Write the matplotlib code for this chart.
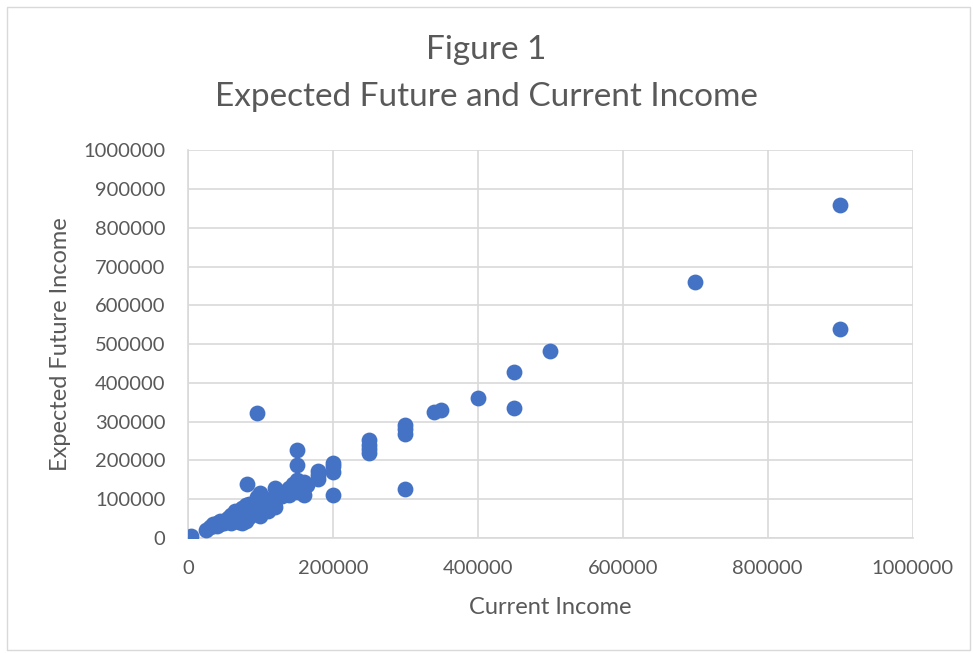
import numpy as np
import matplotlib.pyplot as plt
from matplotlib.patches import Rectangle
from matplotlib.ticker import FuncFormatter

# current income / expected future income
current = [5000, 25000, 30000, 35000, 40000, 40000, 45000, 45000, 50000, 50000,
           55000, 60000, 60000, 65000, 70000, 70000, 75000, 75000, 80000, 80000,
           80000, 85000, 85000, 90000, 90000, 95000, 100000, 100000, 100000, 100000,
           110000, 110000, 115000, 120000, 120000, 120000, 125000, 130000, 135000, 140000,
           145000, 150000, 150000, 150000, 155000, 160000, 160000, 160000, 165000, 120000,
           96000, 150000, 150000, 81000, 180000, 180000, 180000, 200000, 200000, 200000,
           200000, 250000, 250000, 250000, 250000, 300000, 300000, 300000, 300000, 340000,
           350000, 400000, 450000, 450000, 500000, 700000, 900000, 900000, 60000, 90000,
           105000, 130000, 70000, 55000, 35000, 65000, 85000, 110000, 140000, 95000]
future = [5000, 22000, 28000, 35000, 40000, 30000, 45000, 35000, 45000, 38000,
          50000, 60000, 45000, 55000, 65000, 50000, 78000, 38000, 85000, 60000,
          45000, 70000, 55000, 80000, 65000, 90000, 116000, 100000, 80000, 58000,
          95000, 85000, 100000, 128000, 110000, 80000, 105000, 115000, 122000, 130000,
          140000, 150000, 135000, 120000, 142000, 145000, 130000, 112000, 138000, 95000,
          322000, 226000, 188000, 139000, 172000, 162000, 152000, 193000, 185000, 170000,
          111000, 252000, 240000, 230000, 220000, 292000, 282000, 268000, 127000, 326000,
          330000, 360000, 428000, 336000, 483000, 660000, 858000, 540000, 40000, 75000,
          90000, 108000, 42000, 52000, 30000, 70000, 88000, 70000, 110000, 105000]

plt.rcParams['font.family'] = ['Lato', 'DejaVu Sans']
grey = '#595959'

fig = plt.figure(figsize=(9.73, 6.53), dpi=100)
ax = fig.add_axes([0.193, 0.176, 0.745, 0.594])
ax.scatter(current, future, s=130, color='#4472C4', zorder=3, linewidths=0)

ax.set_xlim(0, 1000000)
ax.set_ylim(0, 1000000)
ax.set_xticks(np.arange(0, 1000001, 200000))
ax.set_yticks(np.arange(0, 1000001, 100000))
plain = FuncFormatter(lambda v, p: "%d" % v)
ax.xaxis.set_major_formatter(plain)
ax.yaxis.set_major_formatter(plain)
ax.grid(color='#d9d9d9', linewidth=1.2)
ax.set_axisbelow(True)
for s in ['top', 'right']:
    ax.spines[s].set_visible(False)
for s in ['left', 'bottom']:
    ax.spines[s].set_color('#d9d9d9')
    ax.spines[s].set_linewidth(1.2)
ax.tick_params(length=0, labelsize=14.5, colors=grey)
ax.tick_params(axis='x', pad=16)
ax.tick_params(axis='y', pad=16)
ax.set_xlabel("Current Income", fontsize=17, color=grey, labelpad=14)
ax.set_ylabel("Expected Future Income", fontsize=17, color=grey, labelpad=9)

fig.text(0.5, 0.923, "Figure 1", ha='center', va='center', fontsize=24, color=grey)
fig.text(0.5, 0.851, "Expected Future and Current Income", ha='center', va='center', fontsize=24, color=grey)

fig.patches.append(Rectangle((0.007, 0.005), 0.99, 0.984, transform=fig.transFigure,
                             fill=False, edgecolor='#d9d9d9', linewidth=1))

plt.savefig("out.png", dpi=100)
